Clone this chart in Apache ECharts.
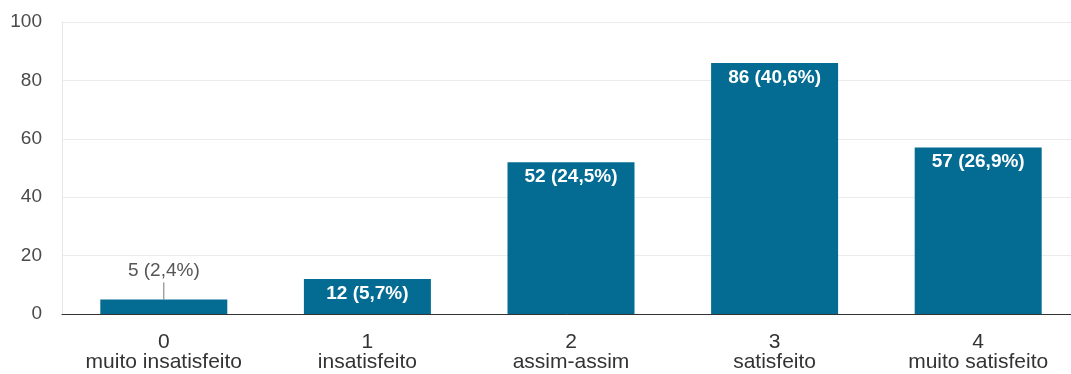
<!DOCTYPE html>
<html>
<head>
<meta charset="utf-8">
<script src="https://cdn.jsdelivr.net/npm/echarts@6/dist/echarts.min.js"></script>
<style>
html,body{margin:0;padding:0;background:#fff;}
#c{width:1071px;height:374px;}
</style>
</head>
<body>
<div id="c"></div>
<script>
const codes = ['0', '1', '2', '3', '4'];
const names = ['muito insatisfeito', 'insatisfeito', 'assim-assim', 'satisfeito', 'muito satisfeito'];
const counts = [5, 12, 52, 86, 57];
const percents = ['2,4%', '5,7%', '24,5%', '40,6%', '26,9%'];
const yTicks = [0, 20, 40, 60, 80, 100];

const FONT = '"Liberation Sans", Arial, sans-serif';
const BAR = '#046c93';
const OUTSIDE_LIMIT = 8;

const categories = codes.map((c, i) => c + '\n' + names[i]);

const barData = counts.map((v, i) => {
  const outside = v < OUTSIDE_LIMIT;
  return {
    value: v,
    label: outside
      ? { position: 'top', distance: 19, color: '#555555', fontWeight: 'normal', fontSize: 19 }
      : { position: 'insideTop', distance: 5, color: '#ffffff', fontWeight: 'bold', fontSize: 19 }
  };
});

const chart = echarts.init(document.getElementById('c'), null, { renderer: 'canvas' });
chart.setOption({
  animation: false,
  backgroundColor: '#ffffff',
  grid: { left: 62, top: 22, width: 1018, height: 292, containLabel: false, outerBoundsMode: 'none' },
  xAxis: {
    type: 'category',
    data: categories,
    axisTick: { show: false },
    axisLine: { show: true, lineStyle: { color: '#333333', width: 1 } },
    axisLabel: {
      fontFamily: FONT, fontSize: 21, color: '#333333',
      lineHeight: 20, margin: 18, interval: 0
    },
    splitLine: { show: false }
  },
  yAxis: {
    type: 'value',
    min: yTicks[0],
    max: yTicks[yTicks.length - 1],
    interval: 20,
    axisLine: { show: true, lineStyle: { color: '#e6e6e6', width: 1 } },
    axisTick: { show: false },
    axisLabel: { fontFamily: FONT, fontSize: 19, color: '#4a4a4a', margin: 20 },
    splitLine: { lineStyle: { color: '#ebebeb', width: 1 } }
  },
  series: [
    {
      type: 'bar',
      data: barData,
      barWidth: 127,
      itemStyle: { color: BAR },
      label: {
        show: true,
        fontFamily: FONT,
        lineHeight: 19,
        formatter: p => counts[p.dataIndex] + ' (' + percents[p.dataIndex] + ')'
      },
      z: 2
    },
    {
      type: 'custom',
      data: counts.map((v, i) => [i, v]),
      renderItem: (params, api) => {
        const v = api.value(1);
        if (v >= OUTSIDE_LIMIT) return null;
        const p = api.coord([api.value(0), v]);
        return {
          type: 'line',
          shape: { x1: p[0], y1: p[1], x2: p[0], y2: p[1] - 17 },
          style: { stroke: '#777777', lineWidth: 1 }
        };
      },
      z: 3,
      silent: true
    }
  ]
});
</script>
</body>
</html>
